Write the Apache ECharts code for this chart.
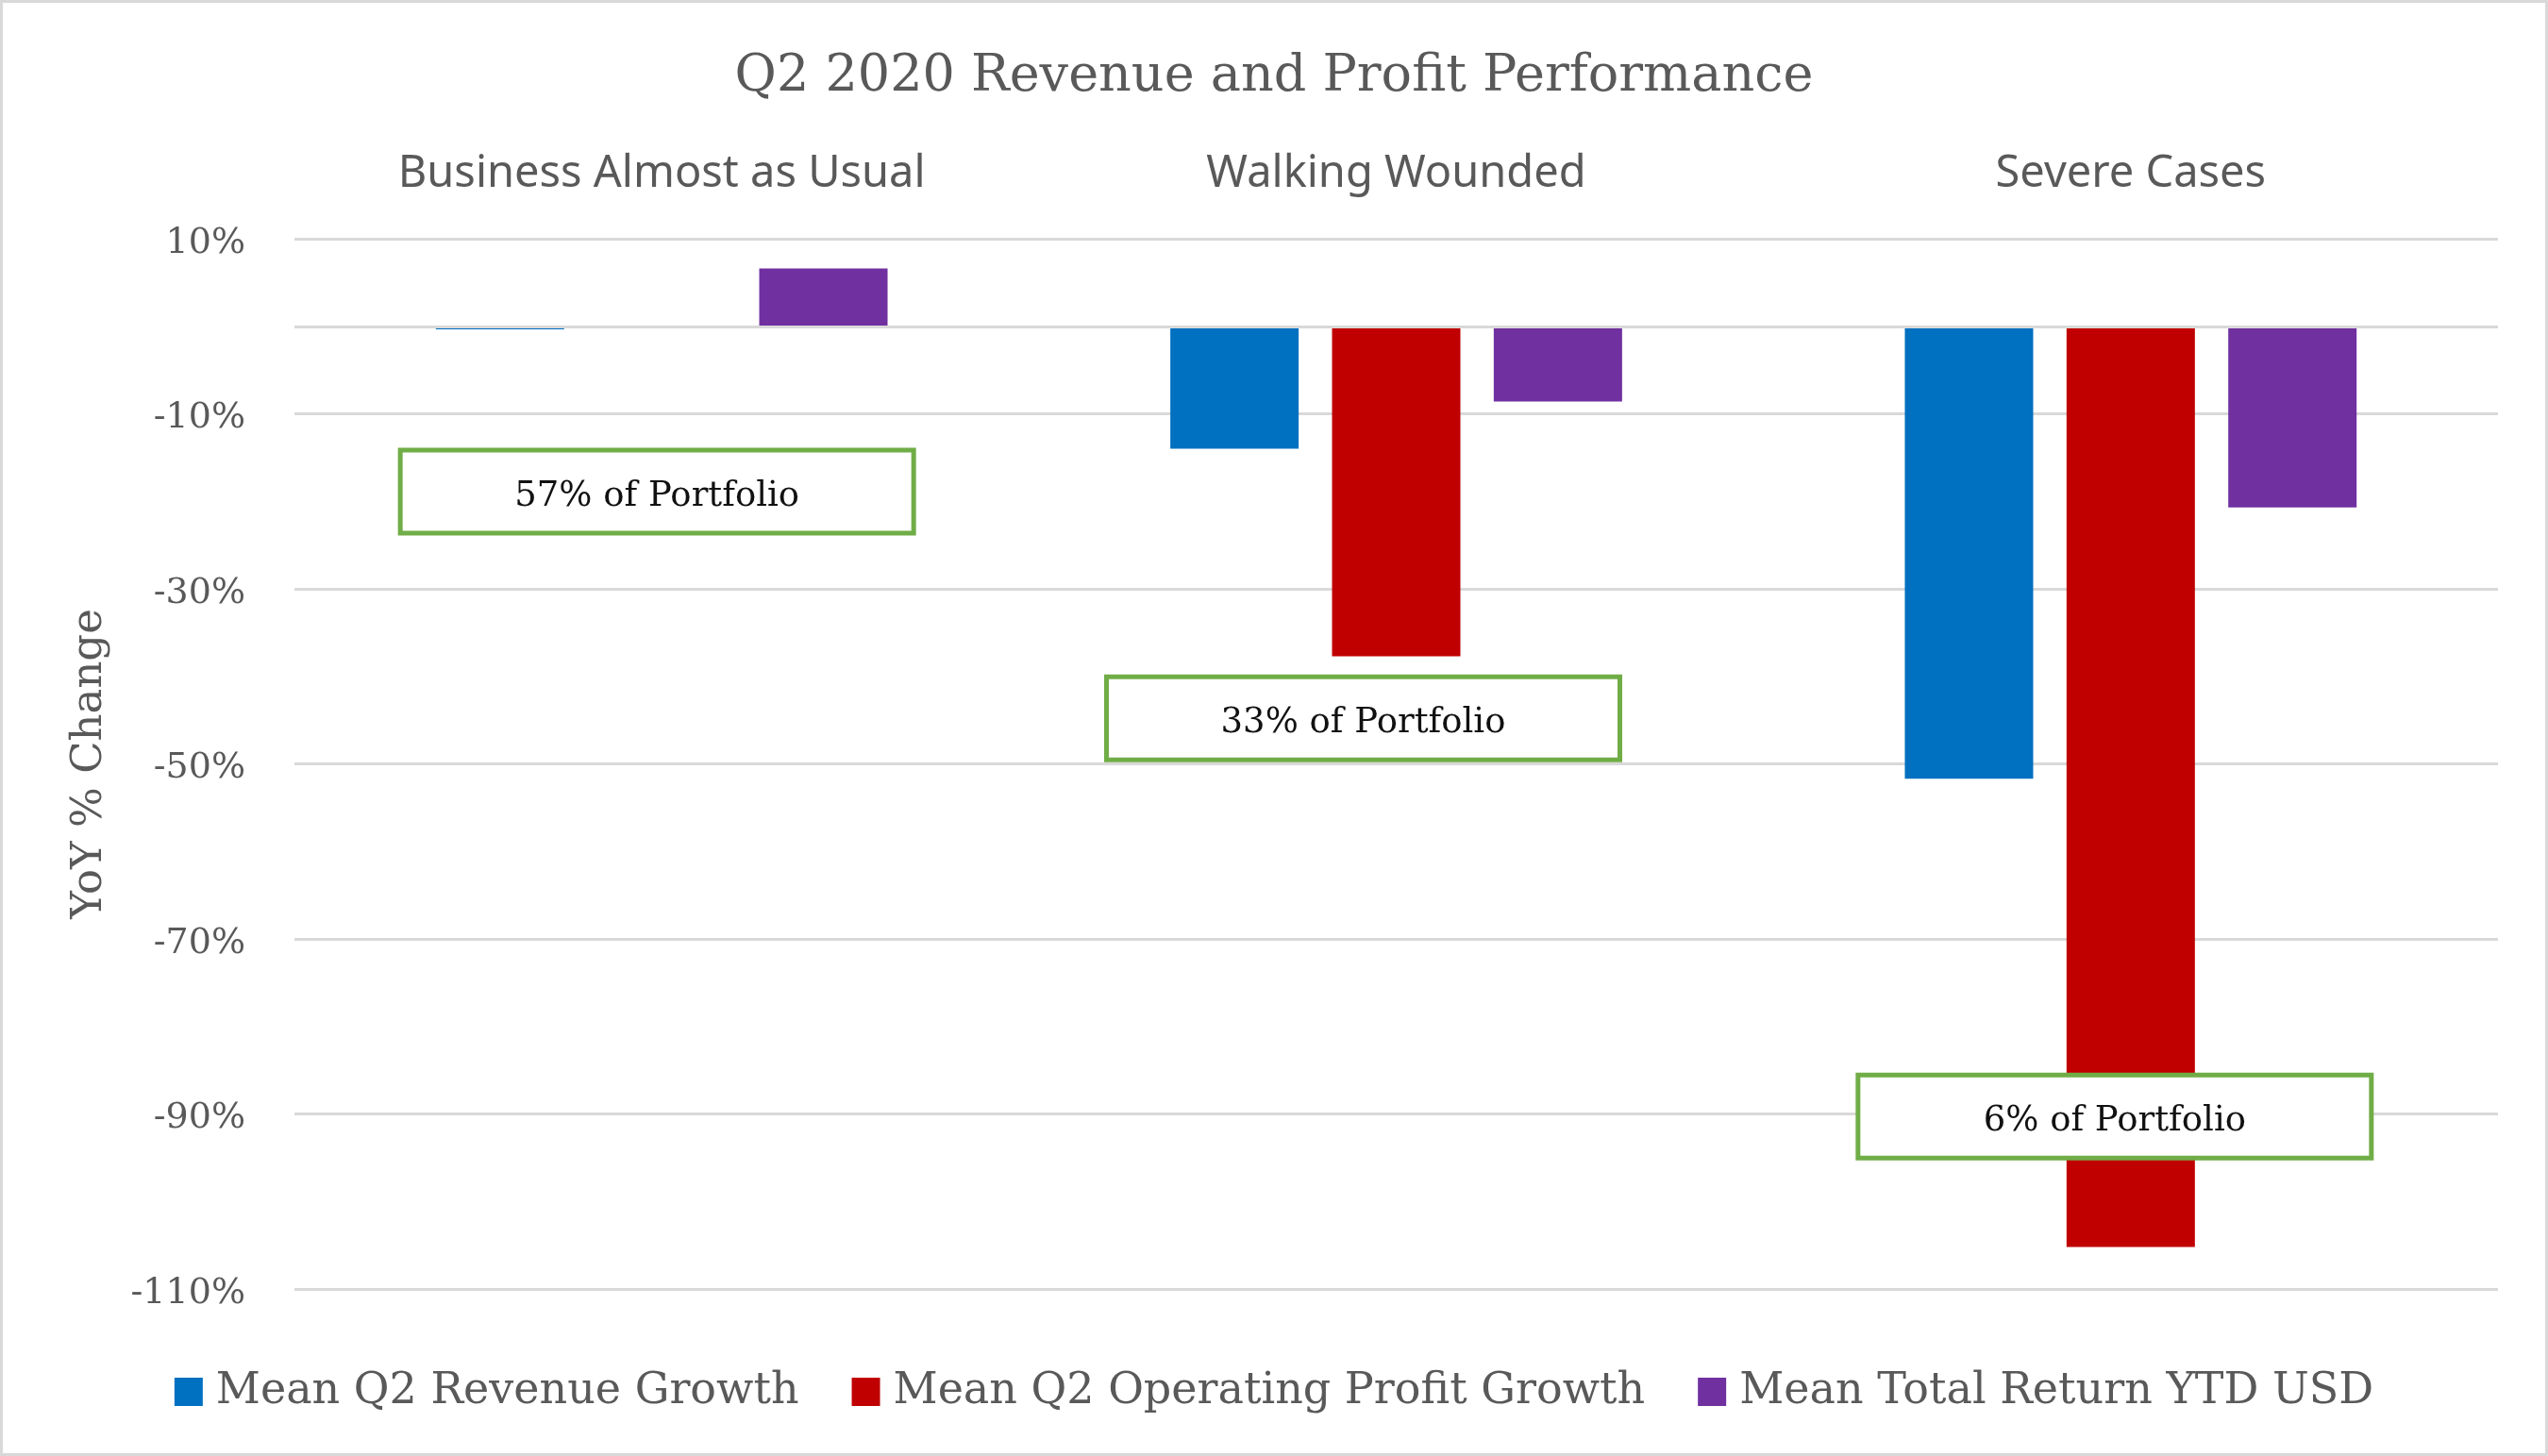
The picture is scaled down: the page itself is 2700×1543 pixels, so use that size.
<!DOCTYPE html>
<html>
<head>
<meta charset="utf-8">
<title>Q2 2020 Revenue and Profit Performance</title>
<script src="https://cdn.jsdelivr.net/npm/echarts@6/dist/echarts.min.js"></script>
<style>
  html, body { margin: 0; padding: 0; background: #fff; }
  #chart { width: 2700px; height: 1543px; }
</style>
</head>
<body>
<div id="chart"></div>
<script>
// categories (top labels)
var categories = ['Business Almost as Usual', 'Walking Wounded', 'Severe Cases'];

// series values, YoY % change
var revenueGrowth = [-0.35, -14.0, -51.7];
var profitGrowth = [0, -37.7, -105.2];
var totalReturn = [6.6, -8.6, -20.7];

var seriesNames = ['Mean Q2 Revenue Growth', 'Mean Q2 Operating Profit Growth', 'Mean Total Return YTD USD'];

// portfolio share notes, anchored at a value on the y axis
var noteLabels = ['57% of Portfolio', '33% of Portfolio', '6% of Portfolio'];
var noteValues = [-18.9, -44.8, -90.3];

var SERIF = '"DejaVu Serif", serif';
var SANS = '"Noto Sans", "Open Sans", sans-serif';
var GREY = '#595959';
var GRID = '#d9d9d9';

var chart = echarts.init(document.getElementById('chart'), null, { renderer: 'canvas' });

function makeBar(name, data, color) {
    return {
        name: name,
        type: 'bar',
        data: data,
        barWidth: 136,
        barGap: '26%',
        itemStyle: { color: color },
        silent: true
    };
}

// small horizontal nudges of the note boxes off the category centre
var noteShift = [-5, -35, -17];

var bars = [
    makeBar(seriesNames[0], revenueGrowth, '#0070C0'),
    makeBar(seriesNames[1], profitGrowth, '#C00000'),
    makeBar(seriesNames[2], totalReturn, '#7030A0')
];
// zero line
bars[0].markLine = {
    silent: true,
    symbol: ['none', 'none'],
    label: { show: false },
    lineStyle: { color: GRID, width: 3, type: 'solid' },
    data: [{ yAxis: 0 }]
};

var notes = {
    name: 'notes',
    type: 'custom',
    z: 5,
    silent: true,
    data: noteValues.map(function (v, i) { return [i, v]; }),
    encode: { x: 0, y: 1 },
    renderItem: function (params, api) {
        var i = params.dataIndex;
        var c = api.coord([api.value(0), api.value(1)]);
        var cx = c[0] + noteShift[i];
        return {
            type: 'group',
            children: [{
                type: 'rect',
                shape: { x: cx - 272, y: c[1] - 44, width: 544, height: 88 },
                style: { fill: '#fff', stroke: '#70AD47', lineWidth: 5 }
            }, {
                type: 'text',
                x: cx,
                y: c[1] + 5,
                style: {
                    text: noteLabels[i],
                    fontFamily: SERIF,
                    fontSize: 37,
                    fill: '#111',
                    align: 'center',
                    verticalAlign: 'middle'
                }
            }]
        };
    }
};

var option = {
    animation: false,
    backgroundColor: '#fff',
    title: {
        text: 'Q2 2020 Revenue and Profit Performance',
        left: 'center',
        top: 55,
        padding: 0,
        textStyle: { fontFamily: SERIF, fontSize: 54, fontWeight: 'normal', color: GREY }
    },
    legend: {
        data: seriesNames,
        left: 'center',
        top: 1452,
        padding: 0,
        icon: 'rect',
        itemWidth: 30,
        itemHeight: 30,
        itemGap: 56,
        selectedMode: false,
        textStyle: { fontFamily: SERIF, fontSize: 46, color: GREY, padding: [0, 0, 0, 9] }
    },
    grid: {
        left: 312,
        right: 53,
        top: 253,
        bottom: 177,
        containLabel: false,
        outerBoundsMode: 'none'
    },
    xAxis: {
        type: 'category',
        data: categories,
        position: 'top',
        axisLine: { show: false, onZero: false },
        axisTick: { show: false },
        splitLine: { show: false },
        axisLabel: { fontFamily: SANS, fontSize: 47, color: GREY, margin: 45, interval: 0 }
    },
    yAxis: {
        type: 'value',
        min: -110,
        max: 10,
        interval: 20,
        name: 'YoY % Change',
        nameLocation: 'middle',
        nameGap: 194,
        nameTextStyle: { fontFamily: SERIF, fontSize: 45, color: GREY },
        axisLine: { show: false },
        axisTick: { show: false },
        axisLabel: {
            formatter: function (v) { return '{t|' + v + '%}'; },
            margin: 52,
            rich: {
                t: { fontFamily: SERIF, fontSize: 38, color: GREY, padding: [10, 0, 0, 0] }
            }
        },
        splitLine: { lineStyle: { color: GRID, width: 3 } }
    },
    graphic: [{
        type: 'rect',
        silent: true,
        z: 100,
        shape: { x: 1.5, y: 1.5, width: 2697, height: 1540 },
        style: { fill: 'none', stroke: GRID, lineWidth: 3 }
    }],
    series: bars.concat([notes])
};

chart.setOption(option);
</script>
</body>
</html>
